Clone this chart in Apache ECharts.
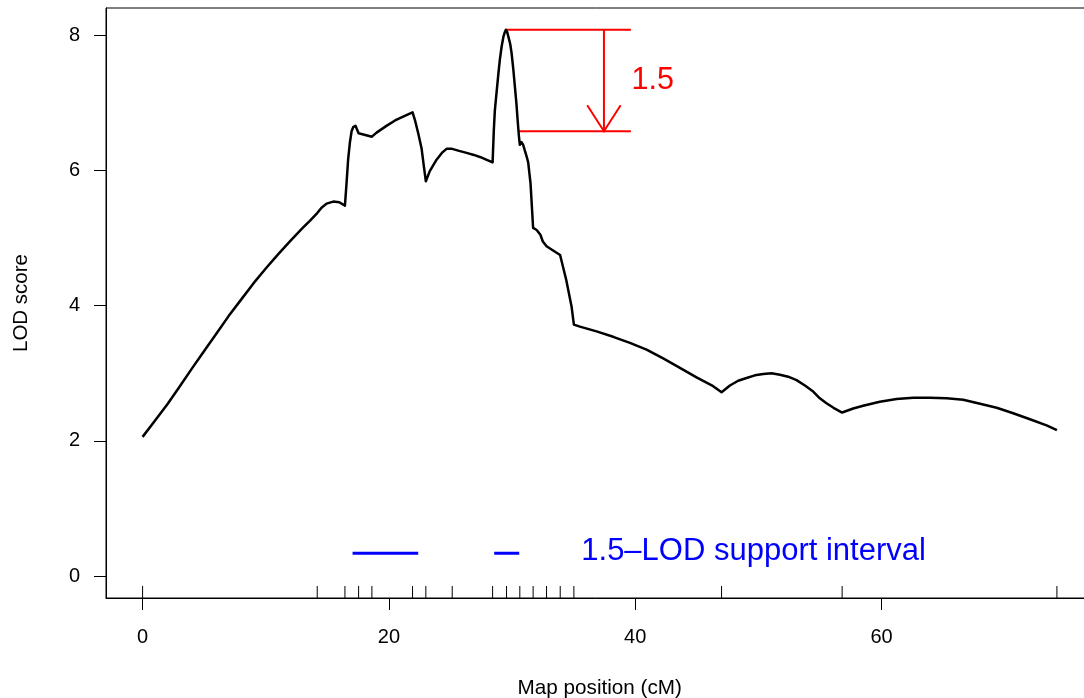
<!DOCTYPE html>
<html>
<head>
<meta charset="utf-8">
<script src="https://cdn.jsdelivr.net/npm/echarts@6/dist/echarts.min.js"></script>
<style>
html,body{margin:0;padding:0;background:#fff;}
#chart{width:1084px;height:698px;}
</style>
</head>
<body>
<div id="chart"></div>
<script>
// ---- data ----
const positions = [0, 1, 2, 3, 4, 5, 6, 7, 8, 9, 10, 11, 12, 13, 13.6, 14.18, 14.53, 14.94, 15.48, 15.97, 16.43,
  16.56, 16.69, 16.83, 16.97, 17.1, 17.29, 17.43, 17.54, 18.62, 19.0, 19.8, 20.5, 21.2, 21.92, 22.11, 22.38, 22.65, 22.84, 23.0,
  23.32, 23.87, 24.3, 24.68, 25.14, 25.7, 26.31, 26.9, 27.39, 27.9, 28.42, 28.52, 28.6, 28.74, 28.9, 29.01, 29.15, 29.3, 29.4, 29.5,
  29.6, 29.7, 29.85, 29.96, 30.1, 30.23, 30.35, 30.45, 30.55,
  30.63, 30.75, 30.9, 31.18, 31.31, 31.5, 31.71, 32.0, 32.3, 32.5, 32.8, 33.3, 33.9, 34.4, 34.83, 35.02,
  35.51, 36.86, 38.21, 39.57, 40.92, 42.27, 43.63, 44.98, 46.33, 47.01,
  47.69, 48.36, 49.04, 49.72, 50.39, 51.07, 51.75, 52.42, 53.1, 53.78, 54.45, 54.99, 55.5, 56.1, 56.8,
  57.7, 58.51, 59.86, 61.22, 62.57, 63.92, 65.28, 66.63, 68.0, 69.35, 70.69, 72.05, 73.4, 74.24];
const lodScores = [2.06, 2.30, 2.54, 2.80, 3.07, 3.33, 3.59, 3.85, 4.09, 4.33, 4.55, 4.76, 4.96, 5.15, 5.26, 5.37, 5.45, 5.51, 5.54, 5.53, 5.48,
  5.81, 6.16, 6.41, 6.58, 6.64, 6.66, 6.60, 6.55, 6.50, 6.56, 6.66, 6.74, 6.80, 6.86, 6.75, 6.55, 6.33, 6.06, 5.84,
  5.99, 6.16, 6.26, 6.32, 6.32, 6.29, 6.26, 6.23, 6.20, 6.16, 6.12, 6.60, 6.88, 7.15, 7.45, 7.64, 7.83, 7.98, 8.04, 8.08,
  8.05, 7.98, 7.87, 7.74, 7.50, 7.24, 7.00, 6.75, 6.52,
  6.38, 6.42, 6.38, 6.21, 6.12, 5.81, 5.15, 5.12, 5.05, 4.95, 4.88, 4.82, 4.75, 4.38, 3.99, 3.72,
  3.69, 3.62, 3.54, 3.45, 3.35, 3.22, 3.08, 2.94, 2.81, 2.72,
  2.82, 2.89, 2.93, 2.97, 2.99, 3.00, 2.98, 2.95, 2.90, 2.82, 2.73, 2.63, 2.56, 2.49, 2.42,
  2.48, 2.52, 2.58, 2.62, 2.64, 2.64, 2.63, 2.61, 2.55, 2.49, 2.41, 2.32, 2.23, 2.16];
const markerPositions = [0, 14.18, 16.43, 17.54, 18.62, 21.92, 23.0, 25.14, 28.42, 29.55, 30.63, 31.71,
  32.8, 33.91, 35.02, 47.01, 56.8, 74.24];
const xTicks = [0, 20, 40, 60];
const yTicks = [0, 2, 4, 6, 8];
const peakPos = 29.5, peakLod = 8.08, dropLod = 1.5;
const lowerLineStart = 30.56, annotEnd = 39.65, arrowPos = 37.46;
const annotLabel = '1.5', annotLabelPos = [39.7, 7.33];
const intervalA = [17.05, 22.38], intervalB = [28.55, 30.58], intervalLod = 0.34;
const legendLabel = '1.5\u2013LOD support interval', legendLabelPos = [35.62, 0.37];
const xTitle = 'Map position (cM)', yTitle = 'LOD score';

// ---- chart ----
const FONT = '"Liberation Sans", Arial, sans-serif';
const xMin = -2.97, xMax = 77.21, yMin = -0.323, yMax = 8.403;
const curve = positions.map((p, i) => [p, lodScores[i]]);
const lowLod = peakLod - dropLod;

const chart = echarts.init(document.getElementById('chart'), null, {renderer: 'canvas'});
chart.setOption({
  animation: false,
  backgroundColor: '#fff',
  grid: {left: 106, top: 8, width: 987.5, height: 590, show: true, borderColor: '#000', borderWidth: 1,
    backgroundColor: 'transparent', containLabel: false, outerBoundsMode: 'none'},
  xAxis: {
    type: 'value', min: xMin, max: xMax,
    name: xTitle, nameLocation: 'middle', nameGap: 80,
    nameTextStyle: {fontSize: 20.7, color: '#000', fontFamily: FONT},
    axisLine: {show: true, onZero: false, lineStyle: {color: '#000', width: 1}},
    axisTick: {show: true, inside: false, length: 12, customValues: xTicks, lineStyle: {color: '#000', width: 1}},
    axisLabel: {customValues: xTicks, fontSize: 20, color: '#000', fontFamily: FONT, margin: 29},
    splitLine: {show: false}
  },
  yAxis: {
    type: 'value', min: yMin, max: yMax,
    name: yTitle, nameLocation: 'middle', nameGap: 74, nameRotate: 90,
    nameTextStyle: {fontSize: 20.5, color: '#000', fontFamily: FONT},
    axisLine: {show: true, onZero: false, lineStyle: {color: '#000', width: 1}},
    axisTick: {show: true, inside: false, length: 12, customValues: yTicks, lineStyle: {color: '#000', width: 1}},
    axisLabel: {customValues: yTicks, fontSize: 20, color: '#000', fontFamily: FONT, margin: 26},
    splitLine: {show: false}
  },
  series: [
    {
      type: 'line', data: curve, showSymbol: false, symbol: 'none',
      lineStyle: {color: '#000', width: 2.5, join: 'round'}, z: 5
    },
    {
      type: 'custom', clip: false,
      data: markerPositions.map(p => [p]),
      encode: {x: 0},
      renderItem: function (params, api) {
        const p = api.coord([api.value(0), yMin]);
        return {type: 'line', shape: {x1: p[0], y1: p[1], x2: p[0], y2: p[1] - 12},
          style: {stroke: '#000', lineWidth: 1}};
      }
    },
    {
      type: 'line', data: [[peakPos, peakLod], [annotEnd, peakLod]], symbol: 'none',
      lineStyle: {color: '#ff0000', width: 2}
    },
    {
      type: 'line', data: [[lowerLineStart, lowLod], [annotEnd, lowLod]], symbol: 'none',
      lineStyle: {color: '#ff0000', width: 2}
    },
    {
      type: 'custom', clip: false,
      data: [[arrowPos, peakLod, lowLod]],
      encode: {x: 0, y: [1, 2]},
      renderItem: function (params, api) {
        const a = api.coord([api.value(0), api.value(1)]);
        const b = api.coord([api.value(0), api.value(2)]);
        return {type: 'group', children: [
          {type: 'line', shape: {x1: a[0], y1: a[1], x2: b[0], y2: b[1]}, style: {stroke: '#ff0000', lineWidth: 2}},
          {type: 'polyline', shape: {points: [[b[0] - 16.7, b[1] - 26], [b[0], b[1]], [b[0] + 16.7, b[1] - 26]]},
            style: {stroke: '#ff0000', lineWidth: 2, fill: null}}
        ]};
      }
    },
    {
      type: 'custom', clip: false,
      data: [annotLabelPos],
      renderItem: function (params, api) {
        const p = api.coord([api.value(0), api.value(1)]);
        return {type: 'text', x: p[0], y: p[1], style: {text: annotLabel, fill: '#ff0000', font: '30.5px ' + FONT,
          textAlign: 'left', textVerticalAlign: 'middle'}};
      }
    },
    {
      type: 'line', data: [[intervalA[0], intervalLod], [intervalA[1], intervalLod]], symbol: 'none',
      lineStyle: {color: '#0000ff', width: 3}
    },
    {
      type: 'line', data: [[intervalB[0], intervalLod], [intervalB[1], intervalLod]], symbol: 'none',
      lineStyle: {color: '#0000ff', width: 3}
    },
    {
      type: 'custom', clip: false,
      data: [legendLabelPos],
      renderItem: function (params, api) {
        const p = api.coord([api.value(0), api.value(1)]);
        return {type: 'text', x: p[0], y: p[1], style: {text: legendLabel, fill: '#0000ff', font: '31px ' + FONT,
          textAlign: 'left', textVerticalAlign: 'middle'}};
      }
    }
  ]
});
</script>
</body>
</html>
